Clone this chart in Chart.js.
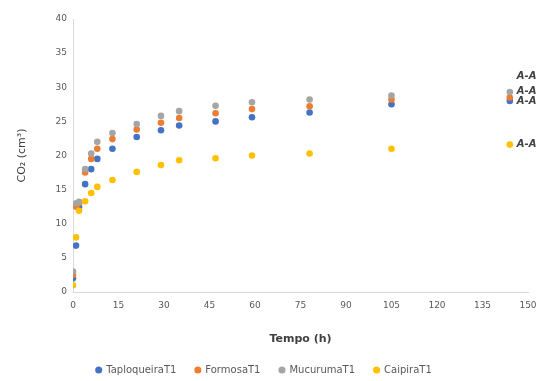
<!DOCTYPE html>
<html><head><meta charset="utf-8">
<script src="https://cdn.jsdelivr.net/npm/chart.js@4"></script>
<style>html,body{margin:0;padding:0;background:#fff}#w{width:539px;height:381px}</style>
</head><body><div id="w"><canvas id="c"></canvas></div>
<script>
const times = [0, 1, 2, 4, 6, 8, 13, 21, 29, 35, 47, 59, 78, 105, 144];
const taploqueira = [2, 6.8, 12.5, 15.8, 18, 19.5, 21, 22.7, 23.7, 24.4, 25, 25.6, 26.3, 27.5, 28];
const formosa = [2.5, 12.5, 13, 17.5, 19.5, 21, 22.4, 23.8, 24.8, 25.5, 26.2, 26.8, 27.2, 28.2, 28.5];
const mucuruma = [3, 13, 13.2, 18, 20.3, 22, 23.3, 24.6, 25.8, 26.5, 27.3, 27.8, 28.2, 28.8, 29.3];
const caipira = [1, 8, 11.9, 13.3, 14.5, 15.4, 16.4, 17.6, 18.6, 19.3, 19.6, 20, 20.3, 21, 21.6];
const seriesNames = ['TaploqueiraT1', 'FormosaT1', 'MucurumaT1', 'CaipiraT1'];
const endLabels = ['A-A', 'A-A', 'A-A', 'A-A'];
const xTicks = [0, 15, 30, 45, 60, 75, 90, 105, 120, 135, 150];

const FONT = '"DejaVu Sans", "Liberation Sans", Arial';
const colors = ['#4472C4', '#ED7D31', '#A5A5A5', '#FFC000'];
const values = [taploqueira, formosa, mucuruma, caipira];
const labelOffsetY = [1, -6, -16, 0];

const datasets = values.map((v, i) => ({
  label: seriesNames[i],
  data: times.map((t, k) => ({x: t, y: v[k]})),
  backgroundColor: colors[i],
  borderColor: colors[i],
  pointRadius: 3.3,
  pointBorderWidth: 0,
  showLine: false,
  order: 4 - i
}));

const endLabelPlugin = {
  id: 'endLabels',
  afterDatasetsDraw(chart) {
    const ctx = chart.ctx;
    ctx.save();
    ctx.font = 'italic bold 10px ' + FONT;
    ctx.fillStyle = '#404040';
    ctx.textBaseline = 'middle';
    chart.data.datasets.forEach((ds, i) => {
      const meta = chart.getDatasetMeta(i);
      const p = meta.data[meta.data.length - 1];
      ctx.fillText(endLabels[i], p.x + 7, p.y + labelOffsetY[i]);
    });
    ctx.restore();
  }
};

new Chart(document.getElementById('c'), {
  type: 'scatter',
  data: { datasets },
  plugins: [endLabelPlugin],
  options: {
    responsive: true,
    maintainAspectRatio: false,
    animation: false,
    layout: { padding: { top: 19, right: 11, left: 0, bottom: -4 } },
    plugins: {
      tooltip: { enabled: false },
      legend: {
        position: 'bottom',
        labels: {
          usePointStyle: true,
          pointStyle: 'circle',
          boxWidth: 5, boxHeight: 5,
          padding: 19,
          color: '#595959',
          font: { size: 10, family: FONT },
          sort: (a, b) => a.datasetIndex - b.datasetIndex
        }
      }
    },
    scales: {
      x: {
        type: 'linear', min: 0, max: 150,
        afterBuildTicks: s => { s.ticks = xTicks.map(v => ({value: v})); },
        afterFit: s => { s.paddingRight = 0; s.paddingLeft = 0; s.height = 54; },
        grid: { display: false, drawTicks: false },
        border: { color: '#d9d9d9', width: 1 },
        ticks: { color: '#595959', padding: 8, font: { size: 9, family: FONT }, maxRotation: 0 },
        title: { display: true, text: 'Tempo (h)', color: '#404040', padding: { top: 16, bottom: 0 }, font: { size: 11, weight: 'bold', family: FONT } }
      },
      y: {
        min: 0, max: 40,
        afterFit: s => { s.width = 73; s.paddingTop = 0; },
        ticks: { stepSize: 5, color: '#595959', padding: 6, font: { size: 9, family: FONT } },
        grid: { display: false, drawTicks: false },
        border: { color: '#d9d9d9', width: 1 },
        title: { display: true, text: 'CO\u2082 (cm\u00B3)', color: '#404040', padding: { top: 16, bottom: 0 }, font: { size: 11, family: FONT } }
      }
    }
  }
});
</script>
</body></html>
